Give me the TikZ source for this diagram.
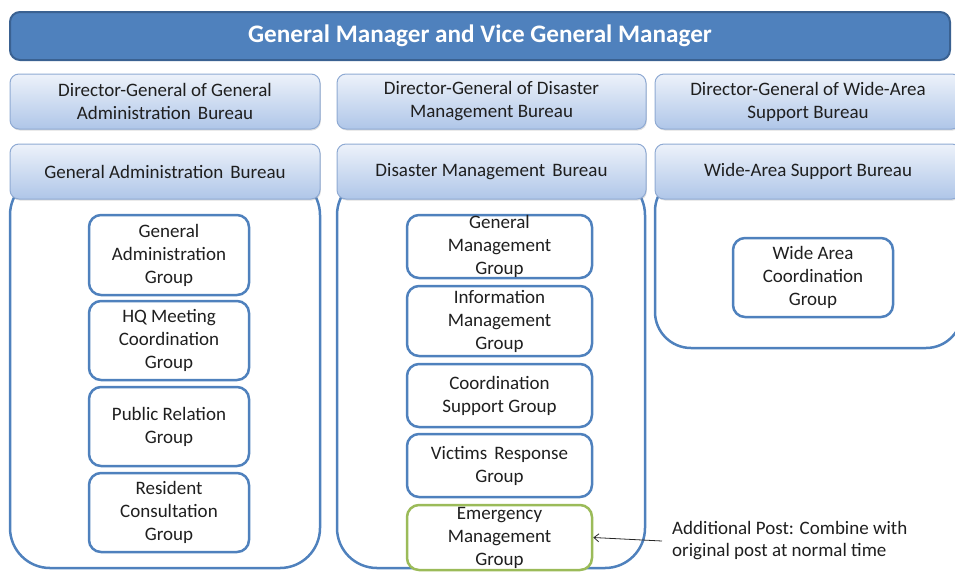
\documentclass[tikz,border=0pt]{standalone}
\usepackage{fontspec}
\setmainfont{Carlito}
\usetikzlibrary{arrows.meta,shadows}
\definecolor{bannerblue}{HTML}{4F81BD}
\definecolor{bannerline}{HTML}{3A6191}
\definecolor{hdrtop}{HTML}{EDF2FA}
\definecolor{hdrbot}{HTML}{AFC6E8}
\definecolor{hdrline}{HTML}{8FAAD3}
\definecolor{grpline}{HTML}{4F81BD}
\definecolor{grnline}{HTML}{9BBB59}
\definecolor{txt}{HTML}{1F1F1F}
\newcommand{\dsp}{\hspace{7pt}}
\begin{document}
\begin{tikzpicture}[x=1pt,y=-1pt,
  banner/.style={draw=bannerline, line width=2pt, fill=bannerblue, rounded corners=10pt,
    minimum width=940pt, minimum height=48pt, inner sep=0pt, text=white,
    font=\fontsize{25.2}{28}\selectfont\bfseries},
  hdr/.style={draw=hdrline, line width=1pt, top color=hdrtop, bottom color=hdrbot,
    rounded corners=9pt, minimum height=55pt, inner sep=0pt, align=center, text=txt,
    font=\fontsize{19}{23}\selectfont,
    drop shadow={opacity=0.25, shadow xshift=0.8pt, shadow yshift=-1.5pt}},
  cont/.style={draw=grpline, line width=2.5pt, rounded corners=40pt, inner sep=0pt},
  grp/.style={draw=grpline, line width=2.5pt, fill=white, rounded corners=12pt,
    inner sep=0pt, align=center, text=txt, font=\fontsize{19}{23}\selectfont},
  grpgreen/.style={grp, draw=grnline},
  note/.style={align=left, inner sep=0pt, text=txt, font=\fontsize{19}{22}\selectfont},
  pointer/.style={draw=black!85, line width=0.8pt, -{Straight Barb[length=5pt,width=8pt]}}
]
\useasboundingbox (0,0) rectangle (955,571);
\begin{scope}
\clip (0,0) rectangle (955,571);

% containers
\node[cont, minimum width=310pt, minimum height=393pt] (c1) at (165,371.5) {};
\node[cont, minimum width=308pt, minimum height=393pt] (c2) at (491,371.5) {};
\node[cont, minimum width=307pt, minimum height=173pt, rounded corners=36pt] (c3) at (808.5,261.5) {};

% banner
\node[banner] (gm) at (480,36) {General Manager and Vice General Manager};

% director row
\node[hdr, minimum width=310pt] (d1) at (165,101.5) {Director-General of General\\Administration\dsp Bureau};
\node[hdr, minimum width=309pt] (d2) at (491.5,101.5) {Director-General of Disaster\\Management Bureau};
\node[hdr, minimum width=306pt] (d3) at (808,101.5) {Director-General of Wide-Area\\Support Bureau};

% bureau row
\node[hdr, minimum width=310pt] (b1) at (165,171.5) {General Administration\dsp Bureau};
\node[hdr, minimum width=309pt] (b2) at (491.5,171.5) {Disaster Management\dsp Bureau};
\node[hdr, minimum width=306pt] (b3) at (808,171.5) {Wide-Area Support Bureau};

% groups column 1
\node[grp, minimum width=160pt, minimum height=80pt] (g11) at (169,255) {General\\Administration\\Group};
\node[grp, minimum width=160pt, minimum height=79pt] (g12) at (169,340.5) {HQ Meeting\\Coordination\\Group};
\node[grp, minimum width=160pt, minimum height=79pt] (g13) at (169,426.5) {Public Relation\\Group};
\node[grp, minimum width=160pt, minimum height=79pt] (g14) at (169,512.5) {Resident\\Consultation\\Group};

% groups column 2
\node[grp, minimum width=185pt, minimum height=63pt] (g21) at (499.5,246.5) {General\\Management\\Group};
\node[grp, minimum width=185pt, minimum height=70pt] (g22) at (499.5,321) {Information\\Management\\Group};
\node[grp, minimum width=185pt, minimum height=63pt] (g23) at (499.5,395.5) {Coordination\\Support Group};
\node[grp, minimum width=185pt, minimum height=63pt] (g24) at (499.5,465.5) {Victims\dsp Response\\Group};
\node[grpgreen, minimum width=185pt, minimum height=65pt] (g25) at (499.5,537.5) {Emergency\\Management\\Group};

% group column 3
\node[grp, minimum width=160pt, minimum height=79pt] (g31) at (813,277.5) {Wide Area\\Coordination\\Group};

% annotation
\node[note, anchor=west] (note) at (672,541) {Additional Post: Combine with\\original post at normal time};
\draw[pointer] ([xshift=-10pt]note.west) -- (g25.east);
\end{scope}
\end{tikzpicture}
\end{document}
